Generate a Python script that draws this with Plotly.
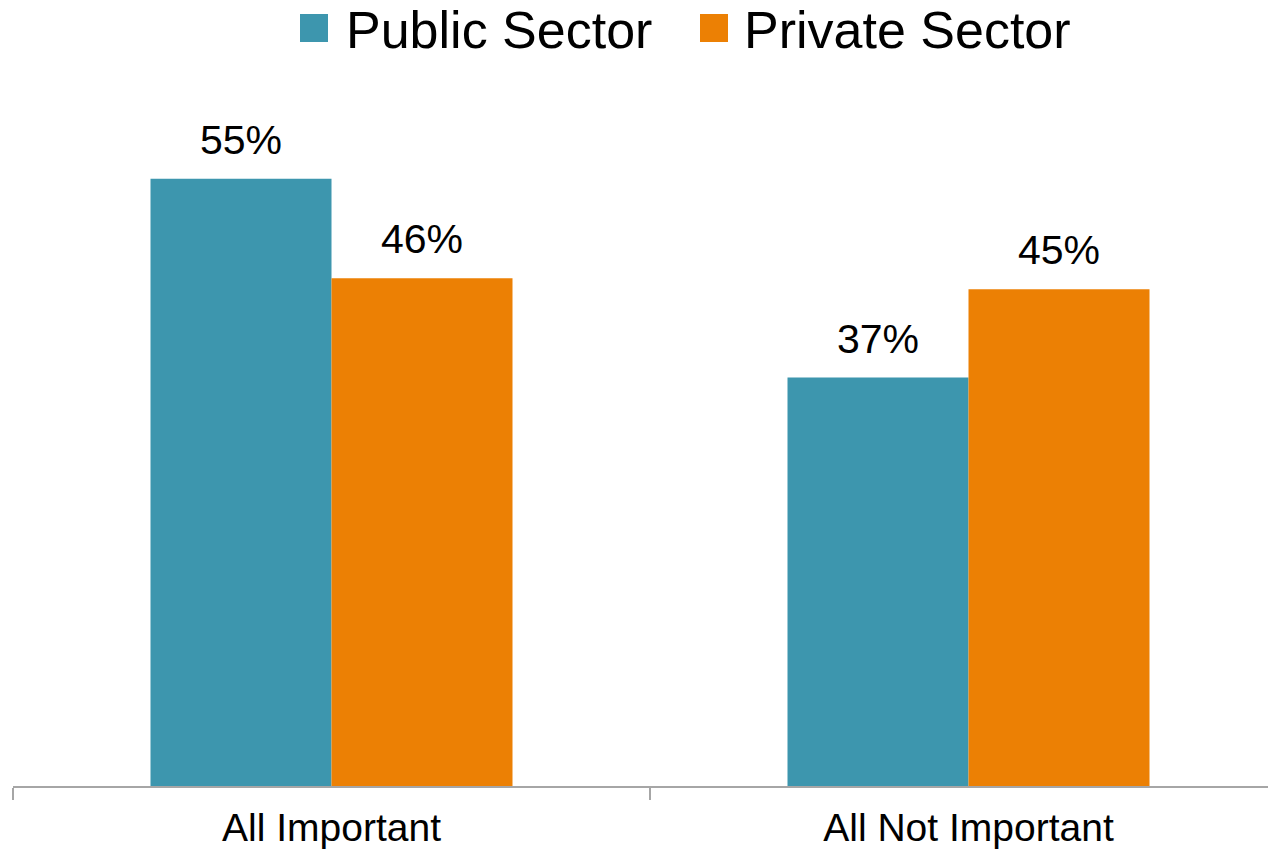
import plotly.graph_objects as go

# Survey shares by sector
categories = ["All Important", "All Not Important"]
series_names = ["Public Sector", "Private Sector"]
public_sector = [55, 37]
private_sector = [46, 45]
series_values = [public_sector, private_sector]
series_colors = ["#3D96AE", "#EC8004"]

W, H = 1268, 854
M_L, M_R, M_T, M_B = 13, 0, 100, 68
PX_PER_CAT = 637.0
BAR_W = 181.0 / PX_PER_CAT
Y_MAX = (H - M_B - M_T) / 11.04

text_font = "Liberation Sans, Arial, sans-serif"

fig = go.Figure()
offsets = [-BAR_W, 0.0]
for name, vals, color, off in zip(series_names, series_values, series_colors, offsets):
    fig.add_trace(go.Bar(
        name=name, x=categories, y=vals, width=BAR_W, offset=off,
        marker=dict(color=color, line=dict(width=0)),
        showlegend=False, hoverinfo="skip",
    ))

# value labels above each bar
annotations = []
for vals, off in zip(series_values, offsets):
    for cat, v in zip(categories, vals):
        shift = (off + BAR_W / 2) * PX_PER_CAT
        annotations.append(dict(
            x=cat, y=v, xref="x", yref="y", text=f"{v}%", showarrow=False,
            xshift=shift, yshift=14, yanchor="bottom", xanchor="center",
            font=dict(family=text_font, size=41, color="#000000"),
        ))

# legend drawn as swatches + text at the top
plot_w = W - M_L - M_R
plot_h = H - M_T - M_B

def px_x(px):
    return (px - M_L) / plot_w

def px_y(py):
    return (H - M_B - py) / plot_h

shapes = []
legend_items = [(300, 344), (700, 742)]
for (sx, tx), name, color in zip(legend_items, series_names, series_colors):
    shapes.append(dict(type="rect", xref="paper", yref="paper",
                       x0=px_x(sx), x1=px_x(sx + 28), y0=px_y(42), y1=px_y(14),
                       fillcolor=color, line=dict(width=0)))
    annotations.append(dict(
        x=px_x(tx), y=px_y(30), xref="paper", yref="paper", text=name,
        showarrow=False, xanchor="left", yanchor="middle",
        font=dict(family=text_font, size=52, color="#000000"),
    ))

fig.update_layout(
    width=W, height=H,
    margin=dict(l=M_L, r=M_R, t=M_T, b=M_B, autoexpand=False),
    paper_bgcolor="white", plot_bgcolor="white",
    barmode="overlay",
    shapes=shapes, annotations=annotations,
    xaxis=dict(
        type="category", range=[-0.5, -0.5 + plot_w / PX_PER_CAT],
        showline=True, linecolor="#A6A6A6", linewidth=2,
        ticks="outside", tickson="boundaries", ticklen=12, tickwidth=2, tickcolor="#A6A6A6",
        showgrid=False, zeroline=False,
        tickfont=dict(family=text_font, size=39, color="#000000"),
        ticklabelstandoff=6,
    ),
    yaxis=dict(range=[0, Y_MAX], visible=False, showgrid=False, zeroline=False),
)

fig.write_html("out.html")
